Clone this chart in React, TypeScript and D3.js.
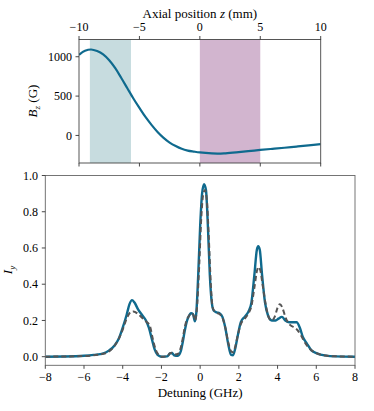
import React, { useRef, useEffect } from 'react';
import * as d3 from 'd3';

// top panel: axial field profile
const zPos = [-10, -9.5, -9, -8.5, -8, -7.5, -7, -6.5, -6, -5.5, -5, -4.5, -4, -3.5, -3, -2.5, -2, -1.5, -1, -0.5, 0, 1, 1.5, 2, 3, 4, 5, 6, 7, 8, 9, 10];
const bzVals = [1025, 1075, 1092, 1072, 1030, 955, 855, 730, 600, 470, 350, 235, 135, 45, -30, -90, -135, -170, -192, -205, -216, -228, -230, -227, -214, -200, -184, -170, -156, -141, -126, -110];
const zTicks = [-10, -5, 0, 5, 10];
const bzTicks = [0, 500, 1000];
const tealBand = [-9.1, -5.7];
const purpleBand = [0, 5];

// bottom panel: spectra
const solidDet = [-8, -7, -6, -5.5, -5, -4.7, -4.4, -4.2, -4, -3.8, -3.65, -3.52, -3.4, -3.2, -3, -2.8, -2.65, -2.5, -2.35, -2.2, -2, -1.7, -1.55, -1.45, -1.35, -1.15, -1, -0.9, -0.8, -0.7, -0.6, -0.47, -0.37, -0.27, -0.2, -0.1, 0, 0.1, 0.2, 0.3, 0.4, 0.5, 0.6, 0.7, 0.85, 1, 1.15, 1.3, 1.45, 1.6, 1.7, 1.8, 1.95, 2.1, 2.3, 2.5, 2.65, 2.8, 2.93, 3, 3.08, 3.2, 3.35, 3.5, 3.7, 3.9, 4.05, 4.22, 4.4, 4.6, 4.8, 4.98, 5.15, 5.3, 5.5, 5.75, 6, 6.5, 7, 8];
const solidIy = [0, 0.001, 0.005, 0.01, 0.018, 0.035, 0.065, 0.1, 0.16, 0.23, 0.29, 0.312, 0.3, 0.26, 0.23, 0.2, 0.16, 0.1, 0.04, 0.01, 0, 0.002, 0.018, 0.02, 0.008, 0.005, 0.03, 0.08, 0.14, 0.19, 0.22, 0.24, 0.235, 0.195, 0.24, 0.45, 0.72, 0.9, 0.952, 0.92, 0.72, 0.45, 0.3, 0.255, 0.245, 0.24, 0.22, 0.16, 0.07, 0.01, 0.008, 0.04, 0.12, 0.19, 0.22, 0.25, 0.3, 0.45, 0.59, 0.61, 0.59, 0.45, 0.3, 0.23, 0.2, 0.2, 0.21, 0.22, 0.2, 0.19, 0.19, 0.19, 0.16, 0.11, 0.075, 0.035, 0.02, 0.006, 0.002, 0];
const dashDet = [-8, -6, -5, -4.5, -4.2, -4, -3.8, -3.6, -3.45, -3.2, -3, -2.8, -2.6, -2.45, -2.3, -2.15, -2, -1.7, -1.55, -1.45, -1.3, -1.15, -1, -0.9, -0.8, -0.7, -0.55, -0.45, -0.35, -0.27, -0.18, -0.05, 0.05, 0.15, 0.25, 0.35, 0.45, 0.55, 0.65, 0.8, 1, 1.15, 1.3, 1.45, 1.6, 1.7, 1.8, 1.95, 2.1, 2.3, 2.5, 2.65, 2.8, 2.95, 3.02, 3.1, 3.25, 3.4, 3.55, 3.7, 3.85, 4, 4.12, 4.25, 4.4, 4.6, 4.8, 5, 5.2, 5.4, 5.7, 6, 6.5, 7, 8];
const dashIy = [0, 0.004, 0.016, 0.05, 0.1, 0.15, 0.21, 0.245, 0.25, 0.235, 0.215, 0.195, 0.17, 0.1, 0.04, 0.01, 0, 0.003, 0.02, 0.022, 0.012, 0.015, 0.05, 0.1, 0.16, 0.2, 0.23, 0.24, 0.23, 0.2, 0.25, 0.5, 0.75, 0.89, 0.92, 0.86, 0.65, 0.4, 0.27, 0.245, 0.235, 0.215, 0.16, 0.08, 0.03, 0.025, 0.05, 0.12, 0.18, 0.21, 0.24, 0.28, 0.38, 0.48, 0.495, 0.48, 0.38, 0.28, 0.215, 0.2, 0.22, 0.27, 0.29, 0.27, 0.22, 0.18, 0.165, 0.15, 0.12, 0.08, 0.04, 0.02, 0.006, 0.002, 0];
const detTicks = [-8, -6, -4, -2, 0, 2, 4, 6, 8];
const iyTicks = [0, 0.2, 0.4, 0.6, 0.8, 1.0];

const FONT = '"Liberation Serif", "Times New Roman", serif';
const BLUE = '#0f6a8e';

const App = () => {
  const ref = useRef<SVGSVGElement>(null);

  useEffect(() => {
    const svg = d3.select(ref.current);
    svg.selectAll('*').remove();
    const minus = (v: number) => (v < 0 ? '\u2212' + Math.abs(v) : String(v));

    // ---------- top panel ----------
    const x1 = d3.scaleLinear().domain([-10, 10]).range([79, 320.7]);
    const y1 = d3.scaleLinear().domain([-350, 1219]).range([163, 39.5]);
    const top = svg.append('g');
    top.append('defs').append('clipPath').attr('id', 'clipTop')
      .append('rect').attr('x', 79).attr('y', 39.5).attr('width', 241.7).attr('height', 123.5);

    top.append('rect').attr('x', x1(tealBand[0])).attr('y', 39.5)
      .attr('width', x1(tealBand[1]) - x1(tealBand[0])).attr('height', 123.5)
      .attr('fill', '#c7dcdf');
    top.append('rect').attr('x', x1(purpleBand[0])).attr('y', 39.5)
      .attr('width', x1(purpleBand[1]) - x1(purpleBand[0])).attr('height', 123.5)
      .attr('fill', '#d2b5cf');

    const line1 = d3.line<number>().x((d, i) => x1(zPos[i])).y(d => y1(d)).curve(d3.curveCatmullRom.alpha(0.5));
    top.append('path').attr('d', line1(bzVals)).attr('fill', 'none')
      .attr('stroke', BLUE).attr('stroke-width', 2.2).attr('clip-path', 'url(#clipTop)');

    top.append('rect').attr('x', 79).attr('y', 39.5).attr('width', 241.7).attr('height', 123.5)
      .attr('fill', 'none').attr('stroke', '#444').attr('stroke-width', 0.9);

    zTicks.forEach(t => {
      top.append('line').attr('x1', x1(t)).attr('x2', x1(t)).attr('y1', 39.5).attr('y2', 36)
        .attr('stroke', '#333').attr('stroke-width', 0.9);
      top.append('line').attr('x1', x1(t)).attr('x2', x1(t)).attr('y1', 163).attr('y2', 166.5)
        .attr('stroke', '#333').attr('stroke-width', 0.9);
      top.append('text').attr('x', x1(t)).attr('y', 31).attr('text-anchor', 'middle')
        .attr('font-family', FONT).attr('font-size', 12).text(minus(t));
    });
    bzTicks.forEach(t => {
      top.append('line').attr('x1', 79).attr('x2', 75.5).attr('y1', y1(t)).attr('y2', y1(t))
        .attr('stroke', '#333').attr('stroke-width', 0.9);
      top.append('text').attr('x', 72).attr('y', y1(t)).attr('dy', '0.35em').attr('text-anchor', 'end')
        .attr('font-family', FONT).attr('font-size', 12).text(minus(t));
    });
    const xl1 = top.append('text').attr('x', x1(0)).attr('y', 18).attr('text-anchor', 'middle')
      .attr('font-family', FONT).attr('font-size', 13);
    xl1.append('tspan').text('Axial position ');
    xl1.append('tspan').attr('font-style', 'italic').text('z');
    xl1.append('tspan').text(' (mm)');
    const yl1 = top.append('text').attr('transform', 'translate(37,101) rotate(-90)')
      .attr('text-anchor', 'middle').attr('font-family', FONT).attr('font-size', 13);
    yl1.append('tspan').attr('font-style', 'italic').text('B');
    yl1.append('tspan').attr('font-style', 'italic').attr('font-size', 9).attr('dy', 2.5).text('z');
    yl1.append('tspan').attr('dy', -2.5).text(' (G)');

    // ---------- bottom panel ----------
    const x2 = d3.scaleLinear().domain([-8, 8]).range([45.3, 355]);
    const y2 = d3.scaleLinear().domain([-0.0475, 1.0]).range([365.3, 175.5]);
    const bot = svg.append('g');
    bot.append('defs').append('clipPath').attr('id', 'clipBot')
      .append('rect').attr('x', 45.3).attr('y', 175.5).attr('width', 309.7).attr('height', 189.8);

    const solid = d3.line<number>().x((d, i) => x2(solidDet[i])).y(d => y2(d)).curve(d3.curveMonotoneX);
    const dashed = d3.line<number>().x((d, i) => x2(dashDet[i])).y(d => y2(d)).curve(d3.curveMonotoneX);
    bot.append('path').attr('d', solid(solidIy)).attr('fill', 'none').attr('stroke', BLUE)
      .attr('stroke-width', 2.4).attr('clip-path', 'url(#clipBot)');
    bot.append('path').attr('d', dashed(dashIy)).attr('fill', 'none').attr('stroke', '#555')
      .attr('stroke-width', 2).attr('stroke-dasharray', '5,3').attr('clip-path', 'url(#clipBot)');

    bot.append('rect').attr('x', 45.3).attr('y', 175.5).attr('width', 309.7).attr('height', 189.8)
      .attr('fill', 'none').attr('stroke', '#666').attr('stroke-width', 0.9);

    detTicks.forEach(t => {
      bot.append('line').attr('x1', x2(t)).attr('x2', x2(t)).attr('y1', 365.3).attr('y2', 368.8)
        .attr('stroke', '#333').attr('stroke-width', 0.9);
      bot.append('text').attr('x', x2(t)).attr('y', 381).attr('text-anchor', 'middle')
        .attr('font-family', FONT).attr('font-size', 12).text(minus(t));
    });
    iyTicks.forEach(t => {
      bot.append('line').attr('x1', 45.3).attr('x2', 41.8).attr('y1', y2(t)).attr('y2', y2(t))
        .attr('stroke', '#333').attr('stroke-width', 0.9);
      bot.append('text').attr('x', 38).attr('y', y2(t)).attr('dy', '0.35em').attr('text-anchor', 'end')
        .attr('font-family', FONT).attr('font-size', 12).text(t.toFixed(1));
    });
    bot.append('text').attr('x', x2(0)).attr('y', 397).attr('text-anchor', 'middle')
      .attr('font-family', FONT).attr('font-size', 13).text('Detuning (GHz)');
    const yl2 = bot.append('text').attr('transform', 'translate(12,270) rotate(-90)')
      .attr('text-anchor', 'middle').attr('font-family', FONT).attr('font-size', 13);
    yl2.append('tspan').attr('font-style', 'italic').text('I');
    yl2.append('tspan').attr('font-style', 'italic').attr('font-size', 9).attr('dy', 2.5).text('y');
  }, []);

  return (
    <svg ref={ref} width={374} height={411}
      style={{ position: 'absolute', left: 0, top: 0, background: '#fff' }} />
  );
};

export default App;
